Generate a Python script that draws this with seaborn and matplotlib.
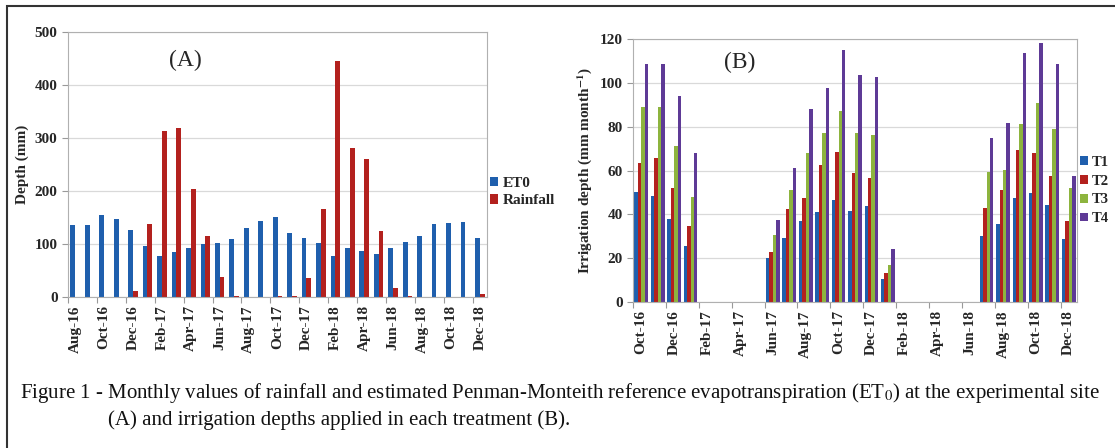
import pandas as pd
import matplotlib.pyplot as plt
import seaborn as sns
from matplotlib.patches import Rectangle

# ---- data ----
months_a = ['Aug-16', 'Sep-16', 'Oct-16', 'Nov-16', 'Dec-16', 'Jan-17', 'Feb-17', 'Mar-17',
            'Apr-17', 'May-17', 'Jun-17', 'Jul-17', 'Aug-17', 'Sep-17', 'Oct-17', 'Nov-17',
            'Dec-17', 'Jan-18', 'Feb-18', 'Mar-18', 'Apr-18', 'May-18', 'Jun-18', 'Jul-18',
            'Aug-18', 'Sep-18', 'Oct-18', 'Nov-18', 'Dec-18']
et0 = [135, 135, 155, 147, 127, 96, 78, 85, 93, 100, 101, 109, 131, 144, 151, 121,
       112, 101, 77, 93, 87, 81, 92, 104, 115, 137, 139, 142, 112]
rainfall = [0, 0, 0, 0, 11, 137, 313, 318, 204, 115, 38, 1, 0, 0, 2, 1,
            35, 167, 446, 282, 260, 125, 17, 1, 0, 0, 0, 0, 6]

months_b = months_a[2:]
t1 = [50, 48.5, 38, 25.5, 0, 0, 0, 0, 20, 29, 37, 41, 46.5, 41.5,
      43.7, 10.3, 0, 0, 0, 0, 0, 30.3, 35.7, 47.3, 49.8, 44.3, 28.7]
t2 = [63.5, 65.5, 52, 34.5, 0, 0, 0, 0, 23, 42.5, 47.5, 62.5, 68.5, 59,
      56.6, 13.4, 0, 0, 0, 0, 0, 42.9, 51.1, 69.3, 67.8, 57.4, 37]
t3 = [89, 89, 71, 48, 0, 0, 0, 0, 30.5, 51, 68, 77, 87, 77,
      76, 17.1, 0, 0, 0, 0, 0, 59.3, 60.2, 81.2, 90.7, 78.8, 52.2]
t4 = [108.5, 108.5, 94, 68, 0, 0, 0, 0, 37.5, 61, 88, 97.5, 115, 103.5,
      102.6, 24.3, 0, 0, 0, 0, 0, 74.8, 81.5, 113.7, 118, 108.6, 57.4]

df_a = pd.DataFrame({'month': months_a * 2,
                     'value': et0 + rainfall,
                     'series': ['ET0'] * len(months_a) + ['Rainfall'] * len(months_a)})
df_b = pd.DataFrame({'month': months_b * 4,
                     'value': t1 + t2 + t3 + t4,
                     'series': [s for s in ['T1', 'T2', 'T3', 'T4'] for _ in months_b]})

sns.set_theme(style="white")
plt.rcParams['font.family'] = ['Liberation Serif', 'DejaVu Serif']
plt.rcParams['mathtext.fontset'] = 'stix'

fig = plt.figure(figsize=(11.15, 4.48), dpi=100)
ax_a = fig.add_axes([0.061, 0.337, 0.3758, 0.5915])
ax_b = fig.add_axes([0.5677, 0.3259, 0.3982, 0.587])

blue, red, green, purple = '#1F5FAD', '#B3211E', '#8DB43E', '#5E3A96'

sns.barplot(data=df_a, x='month', y='value', hue='series', order=months_a,
            hue_order=['ET0', 'Rainfall'], palette=[blue, red], width=0.66,
            saturation=1, errorbar=None, linewidth=0, ax=ax_a)
sns.barplot(data=df_b, x='month', y='value', hue='series', order=months_b,
            hue_order=['T1', 'T2', 'T3', 'T4'], palette=[blue, red, green, purple],
            width=0.84, saturation=1, errorbar=None, linewidth=0, ax=ax_b)


def style_axis(ax, labels, ymax, ystep, ylabel):
    n = len(labels)
    ax.set_xlim(-0.5, n - 0.5)
    ax.set_ylim(0, ymax)
    ax.set_yticks(range(0, ymax + 1, ystep))
    ax.set_xticks(range(0, n, 2))
    ax.set_xticklabels(labels[::2], rotation=90, fontweight='bold', fontsize=11)
    ax.set_xticks([k - 0.5 for k in range(0, n + 1, 2)], minor=True)
    ax.tick_params(axis='x', which='major', length=0, pad=6)
    ax.tick_params(axis='x', which='minor', length=4, color='#999999', width=0.8, bottom=True)
    ax.tick_params(axis='y', length=4, color='#999999', width=0.8, left=True, labelsize=11)
    for t in ax.get_yticklabels():
        t.set_fontweight('bold')
    ax.yaxis.grid(True, color='#d9d9d9', linewidth=0.9)
    ax.set_axisbelow(True)
    for side in ['top', 'right', 'left', 'bottom']:
        ax.spines[side].set_color('#b0b0b0')
        ax.spines[side].set_linewidth(0.8)
    ax.set_xlabel('')
    ax.set_ylabel(ylabel, fontweight='bold', fontsize=11, labelpad=4)


style_axis(ax_a, months_a, 500, 100, 'Depth (mm)')
style_axis(ax_b, months_b, 120, 20, r'Irrigation depth (mm month$^{\mathbf{-1}}$)')

ax_a.text(0.28, 0.894, '(A)', transform=ax_a.transAxes, ha='center', va='center', fontsize=17)
ax_b.text(0.24, 0.91, '(B)', transform=ax_b.transAxes, ha='center', va='center', fontsize=17)

ax_a.legend(loc='center left', bbox_to_anchor=(1.0, 0.396), frameon=False,
            handlelength=0.55, handleheight=0.55, handletextpad=0.3, borderaxespad=0.1,
            borderpad=0.1, labelspacing=0.3, prop={'weight': 'bold', 'size': 11})
ax_b.legend(loc='center left', bbox_to_anchor=(1.0, 0.424), frameon=False,
            handlelength=0.55, handleheight=0.55, handletextpad=0.25, borderaxespad=0.1,
            borderpad=0.1, labelspacing=0.4, prop={'weight': 'bold', 'size': 10.5})

# caption
fig.text(20 / 1115, 1 - 398 / 448,
         r'Figure 1 - Monthly values of rainfall and estimated Penman-Monteith reference '
         r'evapotranspiration (ET$_0$) at the experimental site',
         fontsize=15.0, va='baseline', ha='left', color='#111111')
fig.text(108 / 1115, 1 - 425 / 448,
         '(A) and irrigation depths applied in each treatment (B).',
         fontsize=15.0, va='baseline', ha='left', color='#111111')

# outer frame
fig.patches.append(Rectangle((7 / 1115, -0.1), 1.2, 1 - 6 / 448 + 0.1,
                             transform=fig.transFigure, fill=False,
                             edgecolor='#333333', linewidth=1.5))

fig.savefig('out.png', dpi=100)
plt.close()
